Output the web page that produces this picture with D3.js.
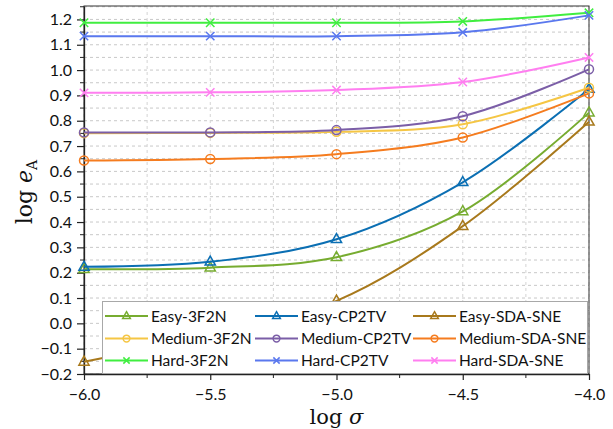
<!DOCTYPE html>
<html>
<head>
<meta charset="utf-8">
<script src="https://cdn.jsdelivr.net/npm/d3@7"></script>
<style>
    body { margin: 0; background: #fff; }
    svg { display: block; }
</style>
</head>
<body>
<svg id="chart"></svg>
<script>
// log sigma positions
const sigmas = [-6.0, -5.5, -5.0, -4.5, -4.0];

const names = [
    'Easy-3F2N', 'Easy-CP2TV', 'Easy-SDA-SNE',
    'Medium-3F2N', 'Medium-CP2TV', 'Medium-SDA-SNE',
    'Hard-3F2N', 'Hard-CP2TV', 'Hard-SDA-SNE'
];

const easy3F2N = [0.214, 0.220, 0.261, 0.442, 0.832];
const easyCP2TV = [0.223, 0.243, 0.332, 0.557, 0.925];
const easySDASNE = [-0.152, -0.045, 0.089, 0.384, 0.796];
const medium3F2N = [0.751, 0.752, 0.756, 0.786, 0.930];
const mediumCP2TV = [0.754, 0.754, 0.763, 0.818, 1.003];
const mediumSDASNE = [0.643, 0.649, 0.668, 0.734, 0.908];
const hard3F2N = [1.187, 1.187, 1.187, 1.192, 1.226];
const hardCP2TV = [1.134, 1.134, 1.134, 1.149, 1.216];
const hardSDASNE = [0.910, 0.912, 0.921, 0.953, 1.050];

const xTicks = [-6.0, -5.5, -5.0, -4.5, -4.0];
const yTicks = [-0.2, -0.1, 0.0, 0.1, 0.2, 0.3, 0.4, 0.5, 0.6, 0.7, 0.8, 0.9, 1.0, 1.1, 1.2];

const colors = ['#77ac30', '#0b6fb3', '#a8791c', '#f5c644', '#7b5ea7', '#f57c1f', '#40ee40', '#5a78ee', '#ff7ef0'];
const shapes = ['tri', 'tri', 'tri', 'circ', 'circ', 'circ', 'cross', 'cross', 'cross'];

const seriesValues = [easy3F2N, easyCP2TV, easySDASNE, medium3F2N, mediumCP2TV, mediumSDASNE, hard3F2N, hardCP2TV, hardSDASNE];
const series = names.map((n, i) => ({
    name: n,
    color: colors[i],
    shape: shapes[i],
    points: sigmas.map((s, j) => ({ x: s, y: seriesValues[i][j] }))
}));

const width = 613, height = 429;
const margin = { top: 6, right: 24, bottom: 55, left: 84 };
const inner_width = width - margin.left - margin.right;
const inner_height = height - margin.top - margin.bottom;

const svg = d3.select('#chart')
    .attr('width', width)
    .attr('height', height);

const chart = svg.append('g')
    .attr('transform', `translate(${margin.left}, ${margin.top})`);

const xscale = d3.scaleLinear().domain([-6, -4]).range([0, inner_width]);
const yscale = d3.scaleLinear().domain([-0.2, 1.253]).range([inner_height, 0]);

// grid (on minor steps)
const xGrid = d3.range(-6, -3.99, 0.25);
const yGrid = d3.range(-0.2, 1.251, 0.05);

chart.append('g').selectAll('line')
    .data(yGrid)
    .join('line')
    .attr('x1', 0).attr('x2', inner_width)
    .attr('y1', d => yscale(d)).attr('y2', d => yscale(d))
    .attr('stroke', '#c8c8c8')
    .attr('stroke-width', 1)
    .attr('stroke-dasharray', '3,3');

chart.append('g').selectAll('line')
    .data(xGrid)
    .join('line')
    .attr('x1', d => xscale(d)).attr('x2', d => xscale(d))
    .attr('y1', 0).attr('y2', inner_height)
    .attr('stroke', '#d4d4d4')
    .attr('stroke-width', 1)
    .attr('stroke-dasharray', '3,3');

// frame
chart.append('rect')
    .attr('width', inner_width)
    .attr('height', inner_height)
    .attr('fill', 'none')
    .attr('stroke', '#333')
    .attr('stroke-width', 1);

// axes
const fontFamily = 'Lato, "Open Sans", sans-serif';
const fmt = d => d.toFixed(1).replace('-', '\u2212');

const xaxis = d3.axisBottom(xscale)
    .tickValues(xTicks)
    .tickFormat(fmt)
    .tickSize(6)
    .tickSizeOuter(0);
const yaxis = d3.axisLeft(yscale)
    .tickValues(yTicks)
    .tickFormat(fmt)
    .tickSize(7)
    .tickPadding(5)
    .tickSizeOuter(0);

const xaxis_group = chart.append('g')
    .attr('transform', `translate(0, ${inner_height})`)
    .call(xaxis);
const yaxis_group = chart.append('g').call(yaxis);

[xaxis_group, yaxis_group].forEach(g => {
    g.select('.domain').attr('stroke', '#222').attr('stroke-width', 1.3);
    g.selectAll('.tick line').attr('stroke', '#222').attr('stroke-width', 1.2);
    g.selectAll('.tick text')
        .style('font-family', fontFamily)
        .style('font-size', '16px')
        .attr('fill', '#111');
});
xaxis_group.selectAll('.tick text').attr('dy', '1.05em');

// minor ticks
chart.append('g').selectAll('line')
    .data(xGrid.filter((d, i) => i % 2 === 1))
    .join('line')
    .attr('x1', d => xscale(d)).attr('x2', d => xscale(d))
    .attr('y1', inner_height).attr('y2', inner_height + 4)
    .attr('stroke', '#222');
chart.append('g').selectAll('line')
    .data(yGrid.filter((d, i) => i % 2 === 1))
    .join('line')
    .attr('x1', -4).attr('x2', 0)
    .attr('y1', d => yscale(d)).attr('y2', d => yscale(d))
    .attr('stroke', '#222');

// lines
const line = d3.line()
    .x(d => xscale(d.x))
    .y(d => yscale(d.y))
    .curve(d3.curveCatmullRom.alpha(0.5));

function drawMarker(g, shape, color, size) {
    if (shape === 'tri') {
        const r = size;
        g.append('path')
            .attr('d', `M0,${-r * 0.95}L${r * 0.85},${r * 0.55}L${-r * 0.85},${r * 0.55}Z`)
            .attr('fill', 'none').attr('stroke', color).attr('stroke-width', 1.5);
    } else if (shape === 'circ') {
        g.append('circle')
            .attr('r', size * 0.75)
            .attr('fill', 'none').attr('stroke', color).attr('stroke-width', 1.5);
    } else {
        const r = size * 0.7;
        g.append('path')
            .attr('d', `M${-r},${-r}L${r},${r}M${-r},${r}L${r},${-r}`)
            .attr('fill', 'none').attr('stroke', color).attr('stroke-width', 1.5);
    }
}

series.forEach(s => {
    chart.append('path')
        .datum(s.points)
        .attr('d', line)
        .attr('fill', 'none')
        .attr('stroke', s.color)
        .attr('stroke-width', 2);
    s.points.forEach(p => {
        const g = chart.append('g')
            .attr('transform', `translate(${xscale(p.x)}, ${yscale(p.y)})`);
        drawMarker(g, s.shape, s.color, 6);
    });
});

// legend
const legend = svg.append('g');
legend.append('rect')
    .attr('x', 102.5).attr('y', 301.5)
    .attr('width', 485).attr('height', 72)
    .attr('fill', '#fff')
    .attr('stroke', '#a8a8a8')
    .attr('stroke-width', 1);

const colX = [105, 255, 413];
const rowY = [316, 338.5, 360.5];
names.forEach((n, i) => {
    const cx = colX[i % 3], cy = rowY[Math.floor(i / 3)];
    legend.append('line')
        .attr('x1', cx).attr('x2', cx + 43)
        .attr('y1', cy).attr('y2', cy)
        .attr('stroke', colors[i]).attr('stroke-width', 2);
    const g = legend.append('g').attr('transform', `translate(${cx + 21.5}, ${cy})`);
    drawMarker(g, shapes[i], colors[i], 4.5);
    legend.append('text')
        .attr('x', cx + 46)
        .attr('y', cy)
        .attr('dy', '0.36em')
        .style('font-family', fontFamily)
        .style('font-size', '15.5px')
        .attr('fill', '#111')
        .text(n);
});

// axis titles
svg.append('text')
    .attr('x', margin.left + inner_width / 2)
    .attr('y', 424)
    .attr('text-anchor', 'middle')
    .style('font-family', '"DejaVu Serif", "Liberation Serif", serif')
    .style('font-size', '21px')
    .attr('fill', '#111')
    .html('log <tspan font-style="italic">σ</tspan>');

const ylab = svg.append('text')
    .attr('transform', 'translate(32, 192) rotate(-90)')
    .attr('text-anchor', 'middle')
    .style('font-family', '"DejaVu Serif", "Liberation Serif", serif')
    .style('font-size', '22px')
    .attr('fill', '#111');
ylab.append('tspan').text('log ');
ylab.append('tspan').attr('font-style', 'italic').text('e');
ylab.append('tspan').attr('dy', '5').style('font-size', '14px').text('A');
</script>
</body>
</html>
